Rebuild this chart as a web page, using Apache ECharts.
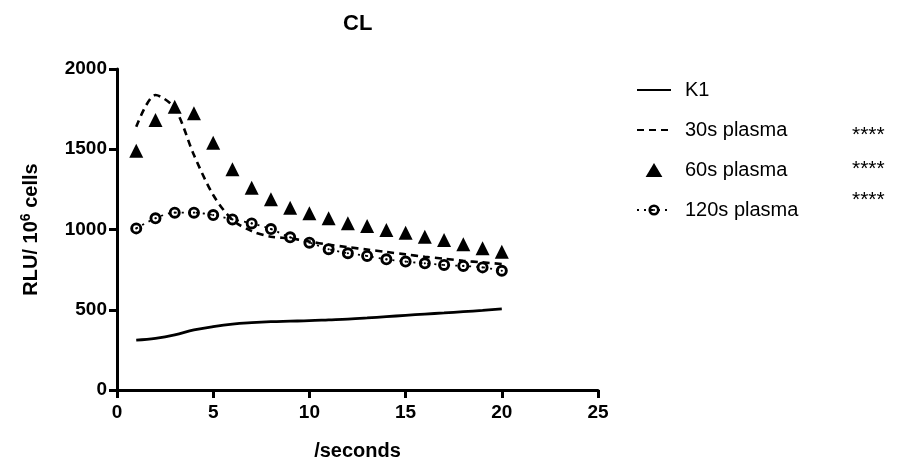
<!DOCTYPE html>
<html lang="en">
<head>
    <meta charset="UTF-8">
    <title>CL</title>
    <script src="https://cdn.jsdelivr.net/npm/echarts@6/dist/echarts.min.js"></script>
    <style>
        body { margin: 0; background: #fff; }
        #chart { width: 899px; height: 468px; }
    </style>
</head>
<body>
    <div id="chart"></div>
    <script>
        // data
        const seconds = [1, 2, 3, 4, 5, 6, 7, 8, 9, 10, 11, 12, 13, 14, 15, 16, 17, 18, 19, 20];
        const k1 = [311, 322, 343, 374, 395, 411, 420, 426, 429, 432, 437, 442, 449, 457, 465, 473, 480, 488, 496, 505];
        const plasma30 = [1640, 1838, 1755, 1464, 1215, 1060, 990, 955, 945, 925, 905, 890, 875, 860, 845, 830, 818, 805, 795, 785];
        const plasma60 = [1491, 1682, 1765, 1724, 1541, 1375, 1260, 1188, 1136, 1101, 1070, 1039, 1022, 997, 980, 955, 935, 908, 883, 862];
        const plasma120 = [1007, 1070, 1105, 1105, 1090, 1063, 1038, 1003, 951, 918, 877, 852, 835, 814, 800, 789, 779, 773, 764, 743];
        const xTicks = [0, 25, 5];
        const yTicks = [0, 2000, 500];

        const pairs = vals => seconds.map((s, i) => [s, vals[i]]);
        const font = 'Arial, "Liberation Sans", sans-serif';
        // ring with a dot in the middle
        const ringDot = 'path://M0,-5A5,5 0 1,1 0,5A5,5 0 1,1 0,-5Z' +
            'M0,-2.6A2.6,2.6 0 1,0 0,2.6A2.6,2.6 0 1,0 0,-2.6Z' +
            'M0,-0.9A0.9,0.9 0 1,1 0,0.9A0.9,0.9 0 1,1 0,-0.9Z';
        const triIcon = 'path://M0,10L6,0L12,10Z';

        const chart = echarts.init(document.getElementById('chart'));
        chart.setOption({
            animation: false,
            title: {
                text: 'CL',
                left: 338,
                top: 8,
                textStyle: { fontFamily: font, fontWeight: 'bold', fontSize: 22, color: '#000' }
            },
            grid: { left: 117, right: 301, top: 69, bottom: 78 },
            legend: {
                orient: 'vertical',
                left: 631,
                top: 75,
                itemGap: 20,
                itemWidth: 34,
                itemHeight: 14,
                symbolKeepAspect: true,
                textStyle: { fontFamily: font, fontSize: 20, color: '#000', padding: [0, 0, 0, 9] },
                data: [
                    { name: 'K1', itemStyle: { opacity: 0 } },
                    { name: '30s plasma', itemStyle: { opacity: 0 } },
                    { name: '60s plasma', icon: triIcon, itemStyle: { opacity: 1 } },
                    { name: '120s plasma' }
                ]
            },
            xAxis: {
                type: 'value',
                min: xTicks[0], max: xTicks[1], interval: xTicks[2],
                name: '/seconds',
                nameLocation: 'middle',
                nameGap: 51,
                nameTextStyle: { fontFamily: font, fontWeight: 'bold', fontSize: 20, color: '#000' },
                axisLine: { lineStyle: { color: '#000', width: 3 } },
                axisTick: { length: 8, lineStyle: { color: '#000', width: 3 } },
                axisLabel: { fontFamily: font, fontWeight: 'bold', fontSize: 19, color: '#000', margin: 13 },
                splitLine: { show: false }
            },
            yAxis: {
                type: 'value',
                min: yTicks[0], max: yTicks[1], interval: yTicks[2],
                name: 'RLU/ 10{sup|6} cells',
                nameLocation: 'middle',
                nameRotate: 90,
                nameGap: 74,
                nameTextStyle: {
                    fontFamily: font, fontWeight: 'bold', fontSize: 20, color: '#000',
                    rich: {
                        sup: { fontFamily: font, fontWeight: 'bold', fontSize: 14, color: '#000', verticalAlign: 'top', padding: [0, 0, 10, 0] }
                    }
                },
                axisLine: { lineStyle: { color: '#000', width: 3 } },
                axisTick: { length: 8, lineStyle: { color: '#000', width: 3 } },
                axisLabel: { fontFamily: font, fontWeight: 'bold', fontSize: 19, color: '#000', margin: 10, formatter: v => String(v) },
                splitLine: { show: false }
            },
            series: [
                {
                    name: 'K1',
                    type: 'line',
                    data: pairs(k1),
                    smooth: 0.4,
                    symbol: 'none',
                    lineStyle: { color: '#000', width: 2.8 },
                    itemStyle: { color: '#000' }
                },
                {
                    name: '30s plasma',
                    type: 'line',
                    data: pairs(plasma30),
                    smooth: 0.3,
                    symbol: 'none',
                    lineStyle: { color: '#000', width: 2.6, type: [7, 5] },
                    itemStyle: { color: '#000' }
                },
                {
                    name: '60s plasma',
                    type: 'scatter',
                    data: pairs(plasma60),
                    symbol: 'triangle',
                    symbolSize: 14,
                    itemStyle: { color: '#000', opacity: 1 }
                },
                {
                    name: '120s plasma',
                    type: 'line',
                    data: pairs(plasma120),
                    smooth: 0.3,
                    symbol: ringDot,
                    symbolSize: 12,
                    lineStyle: { color: '#000', width: 1.8, type: [2, 5] },
                    itemStyle: { color: '#000' }
                }
            ],
            graphic: [
                { type: 'text', left: 852, top: 125, style: { text: '****', font: '21px Arial, "Liberation Sans", sans-serif', fill: '#000' } },
                { type: 'text', left: 852, top: 159, style: { text: '****', font: '21px Arial, "Liberation Sans", sans-serif', fill: '#000' } },
                { type: 'text', left: 852, top: 190, style: { text: '****', font: '21px Arial, "Liberation Sans", sans-serif', fill: '#000' } }
            ]
        });
    </script>
</body>
</html>
